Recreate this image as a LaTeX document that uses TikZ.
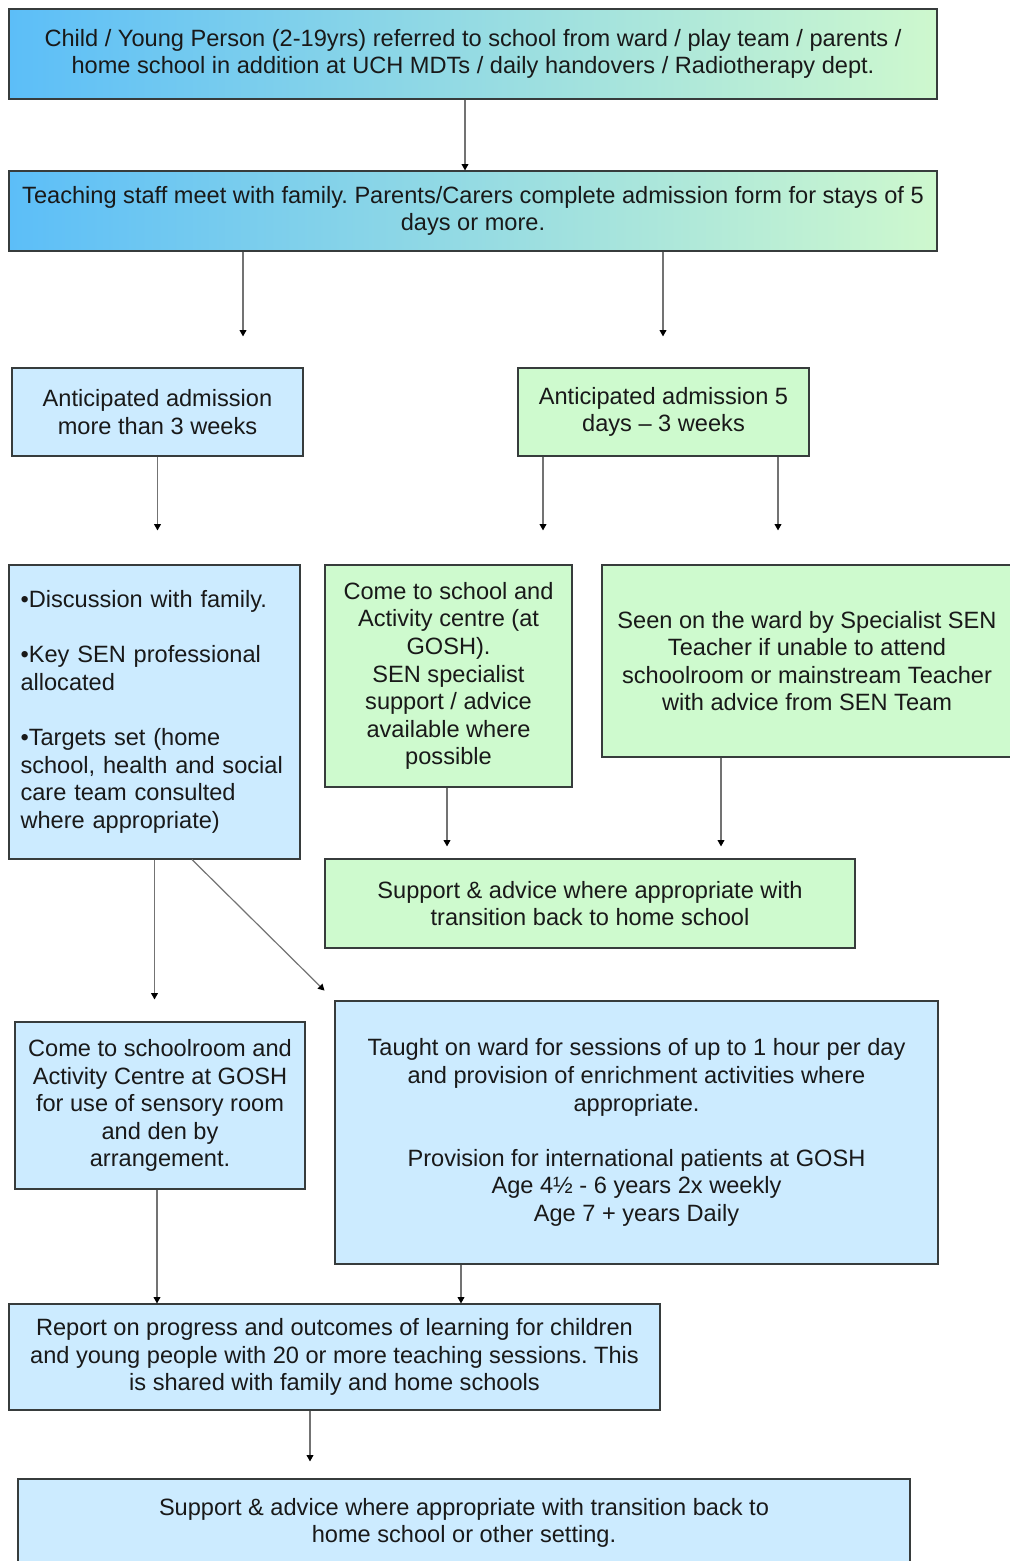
\documentclass[tikz,border=0pt]{standalone}
\usepackage{fontspec}
\setmainfont{Liberation Sans}
\usetikzlibrary{arrows.meta}
\frenchspacing

\definecolor{gradL}{RGB}{92,190,248}
\definecolor{gradR}{RGB}{206,248,206}
\definecolor{paleblue}{RGB}{204,235,255}
\definecolor{palegreen}{RGB}{206,250,206}
\definecolor{edge}{RGB}{55,60,60}
\definecolor{ink}{RGB}{25,25,25}

\begin{document}
\begin{tikzpicture}[x=0.5pt,y=-0.5pt,
	box/.style={draw=edge,line width=0.55pt,inner sep=0pt,text=ink,
		font=\fontsize{11.8}{13.8}\selectfont,align=center},
	gradbox/.style={box,left color=gradL,right color=gradR},
	bluebox/.style={box,fill=paleblue},
	greenbox/.style={box,fill=palegreen},
	arr/.style={draw=black!55,line width=0.6pt,-{Triangle[length=3.2pt,width=3.4pt,color=black]}}]
	
	\useasboundingbox (0,0) rectangle (1009,1561);
	
	% top of the chart
	\node[gradbox,minimum width=464pt,minimum height=45pt] (refer) at (473,54)
		{Child / Young Person (2-19yrs) referred to school from ward / play team / parents /\\
		home school in addition at UCH MDTs / daily handovers / Radiotherapy dept.};
	\node[gradbox,minimum width=464pt,minimum height=40pt] (meet) at (473,211)
		{Teaching staff meet with family. Parents/Carers complete admission form for stays of 5\\
		days or more.};
	
	\node[bluebox,minimum width=145.5pt,minimum height=44pt] (long) at (157.5,412)
		{Anticipated admission\\ more than 3 weeks};
	\node[greenbox,minimum width=145.5pt,minimum height=44pt] (short) at (663.5,412)
		{Anticipated admission 5\\ days -- 3 weeks};
	
	% middle row
	\node[bluebox,minimum width=145.5pt,minimum height=147pt,align=left,
		text width=134pt] (discuss) at (154.5,712)
		{\textbullet Discussion with family.\\[13.8pt]
		\textbullet Key SEN professional\\ allocated\\[13.8pt]
		\textbullet Targets set (home\\ school, health and social\\ care team consulted\\ where appropriate)};
	\node[greenbox,minimum width=123.5pt,minimum height=111pt] (gosh) at (448.5,676)
		{Come to school and\\ Activity centre (at\\ GOSH).\\ SEN specialist\\ support / advice\\ available where\\ possible};
	\node[greenbox,minimum width=205pt,minimum height=96pt] (ward) at (807,661)
		{Seen on the ward by Specialist SEN\\ Teacher if unable to attend\\ schoolroom or mainstream Teacher\\ with advice from SEN Team};
	\node[greenbox,minimum width=265pt,minimum height=44.5pt] (back) at (590,903.5)
		{Support \& advice where appropriate with\\ transition back to home school};
	
	% lower part
	\node[bluebox,minimum width=145pt,minimum height=83.5pt] (sensory) at (160,1105.5)
		{Come to schoolroom and\\ Activity Centre at GOSH\\ for use of sensory room\\ and den by\\ arrangement.};
	\node[bluebox,minimum width=301.5pt,minimum height=131.5pt] (taught) at (636.5,1132.5)
		{Taught on ward for sessions of up to 1 hour per day\\
		and provision of enrichment activities where\\ appropriate.\\[13.8pt]
		Provision for international patients at GOSH\\ Age 4½ - 6 years 2x weekly\\ Age 7 + years Daily};
	\node[bluebox,minimum width=325.5pt,minimum height=53pt] (report) at (334.5,1357)
		{Report on progress and outcomes of learning for children\\
		and young people with 20 or more teaching sessions. This\\ is shared with family and home schools};
	\node[bluebox,minimum width=446pt,minimum height=44pt] (final) at (464,1523)
		{Support \& advice where appropriate with transition back to\\ home school or other setting.};
	
	% arrows
	\draw[arr] (refer.south -| 465,0) -- (meet.north -| 465,0);
	\draw[arr,shorten >=15.5pt] (meet.south -| 243,0) -- (long.north -| 243,0);
	\draw[arr,shorten >=15.5pt] (meet.south -| 663,0) -- (short.north -| 663,0);
	\draw[arr,shorten >=17pt] (long.south) -- (discuss.north -| long.south);
	\draw[arr,shorten >=17pt] (short.south -| 543,0) -- (gosh.north -| 543,0);
	\draw[arr,shorten >=17pt] (short.south -| 778,0) -- (ward.north -| 778,0);
	\draw[arr,shorten >=6pt] (gosh.south -| 447,0) -- (back.north -| 447,0);
	\draw[arr,shorten >=6pt] (ward.south -| 721,0) -- (back.north -| 721,0);
	\draw[arr,shorten >=11pt] (discuss.south) -- (sensory.north -| discuss.south);
	\draw[arr,shorten >=7pt] (discuss.south -| 192,0) -- (taught.north west);
	\draw[arr] (sensory.south -| 157,0) -- (report.north -| 157,0);
	\draw[arr] (taught.south -| 461,0) -- (report.north -| 461,0);
	\draw[arr,shorten >=8.5pt] (report.south -| 310,0) -- (final.north -| 310,0);
	
\end{tikzpicture}
\end{document}
